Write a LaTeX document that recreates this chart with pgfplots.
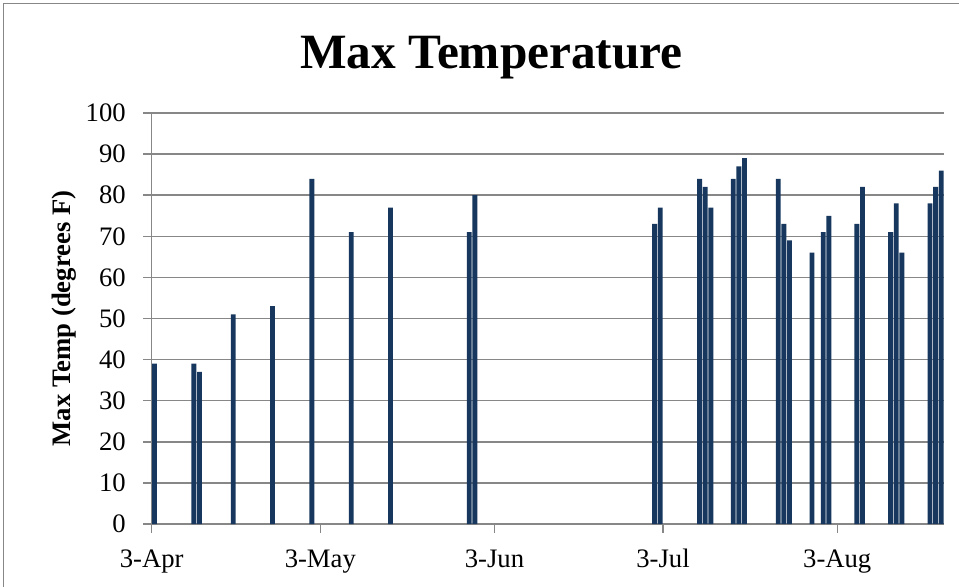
\documentclass[border=0pt]{standalone}
\usepackage{fontspec}
\setmainfont{Liberation Serif}
\usepackage{pgfplots}
\pgfplotsset{compat=1.18}
\definecolor{barblue}{HTML}{17375E}
\definecolor{gridgray}{HTML}{878787}
\pgfplotstableread{
day temp
0.5 39
7.5 39
8.5 37
14.5 51
21.5 53
28.5 84
35.5 71
42.5 77
56.5 71
57.5 80
89.5 73
90.5 77
97.5 84
98.5 82
99.5 77
103.5 84
104.5 87
105.5 89
111.5 84
112.5 73
113.5 69
117.5 66
119.5 71
120.5 75
125.5 73
126.5 82
131.5 71
132.5 78
133.5 66
138.5 78
139.5 82
140.5 86
}\maxtemp
\begin{document}
\begin{tikzpicture}
\useasboundingbox (0pt,0pt) rectangle (719.25pt,439.5pt);
\draw[gridgray, line width=1.1pt] (2.5pt,-2pt) -- (2.5pt,437pt) -- (722pt,437pt);
\begin{axis}[
  at={(113.8pt,46.5pt)}, anchor=south west,
  scale only axis, width=594.2pt, height=308.25pt,
  xmin=0, xmax=141, ymin=0, ymax=100,
  axis x line*=bottom, axis y line*=left,
  axis line style={-, gridgray, line width=1.1pt},
  tick align=outside,
  major tick length=6.4pt,
  tick style={gridgray, line width=1.1pt},
  ymajorgrids,
  major grid style={gridgray, line width=1.1pt},
  xtick={0,30,61,91,122},
  xticklabels={3-Apr,3-May,3-Jun,3-Jul,3-Aug},
  ytick={0,10,...,100},
  /pgf/number format/assume math mode=true,
  ticklabel style={font=\fontsize{20}{24}\selectfont},
  xticklabel style={anchor=base, yshift=-26.4pt},
  yticklabel style={anchor=east, inner sep=0pt, xshift=-12.9pt},
  ylabel={Max Temp (degrees F)},
  ylabel style={at={(axis description cs:-0.111,0.5)}, anchor=center, font=\fontsize{20}{24}\selectfont\bfseries},
  title={Max Temperature},
  title style={at={(axis description cs:0.4289,1.0893)}, anchor=base, font=\fontsize{37}{40}\selectfont\bfseries},
]
\addplot[ybar, bar width=0.87, fill=barblue, draw=none] table[x=day, y=temp] {\maxtemp};
\end{axis}
\end{tikzpicture}
\end{document}
